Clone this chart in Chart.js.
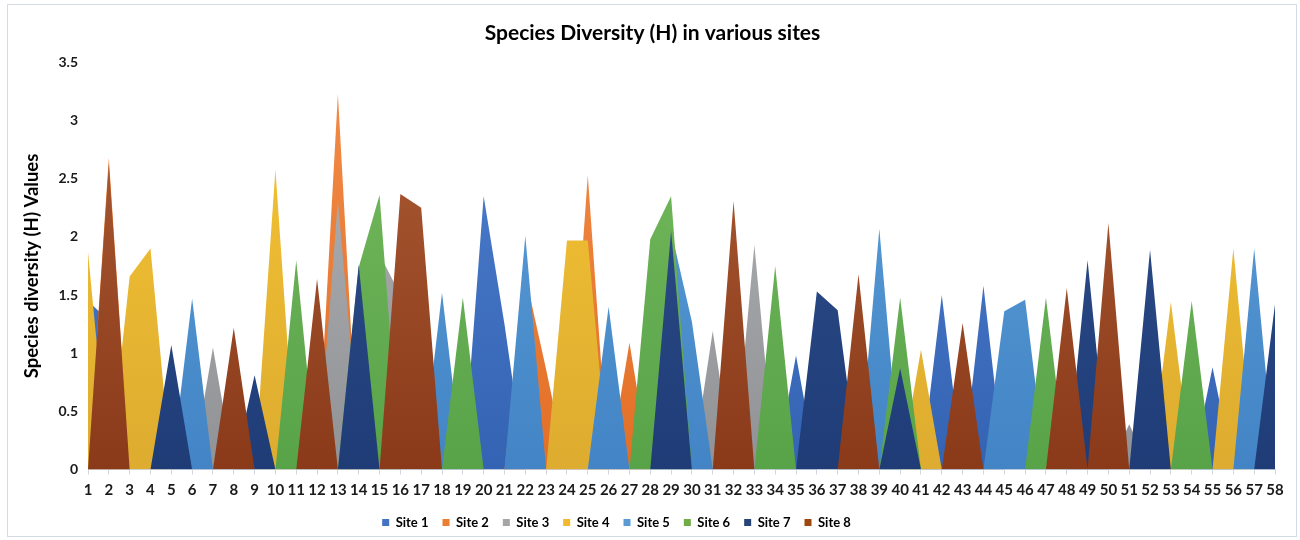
<!DOCTYPE html>
<html><head><meta charset="utf-8">
<script src="https://cdn.jsdelivr.net/npm/chart.js@4/dist/chart.umd.min.js"></script>
<style>
html,body{margin:0;padding:0;background:#fff;overflow:hidden;}
#wrap{position:relative;width:1300px;height:540px;}
#frame{position:absolute;left:7px;top:4px;width:1290px;height:533px;border:1px solid #d3dbe5;box-sizing:border-box;}
canvas{position:absolute;left:0;top:0;}
</style></head><body>
<div id="wrap"><div id="frame"></div><canvas id="c" width="1300" height="540"></canvas></div>
<script>
const categories = ["1","2","3","4","5","6","7","8","9","10","11","12","13","14","15","16","17","18","19","20",
  "21","22","23","24","25","26","27","28","29","30","31","32","33","34","35","36","37","38","39","40",
  "41","42","43","44","45","46","47","48","49","50","51","52","53","54","55","56","57","58"];
const siteNames = ["Site 1","Site 2","Site 3","Site 4","Site 5","Site 6","Site 7","Site 8"];
const yTicks = [0,0.5,1,1.5,2,2.5,3,3.5];

const site1 = [1.45,1.28,0,0,0,0,0,0,0,0, 0,0,0,0,0,0,0,0,0,2.35, 1.25,0,0,0,0,0,0,0,0,0, 0,0,0,0,0.98,0,0,0,0,0, 0,1.50,0,1.58,0,0,0,0,0,0, 0,0,0,0,0.88,0,0,0];
const site2 = [0,2.68,0,0,0,0,0,0,0,0, 0,0,3.23,0,0,0,0,0,0,0, 0,1.67,0.86,0,2.53,0,1.09,0,0,0, 0,0,0,0,0,0,0,0,0,0, 0,0,0,0,0,0,0,0,0,0, 0,0,0,0,0,0,0,0];
const site3 = [0,0,0,0,0,0,1.05,0,0,0, 0,0,2.31,0.31,1.85,1.50,0,0,0,0, 0,0,0,0,0,0,0,0,0,0, 1.19,0,1.93,0,0,0,0,0,0,0, 0,0,0,0,0,0,0,0,0,0, 0.39,0,0,0,0,0,0,0];
const site4 = [1.87,0,1.66,1.90,0,0,0,0,0,2.58, 0,0,0,0,0,0,0,0,0,0, 0,0,0,1.97,1.97,0,0,0,0,0, 0,0,0,0,0,0,0,0,0,0, 1.03,0,0,0,0,0,0,0,0,0, 0,0,1.44,0,0,1.90,0,0];
const site5 = [0,0,0,0,0,1.47,0,0,0,0, 0,0,0,0,0,0,0,1.52,0,0, 0,2.01,0,0,0,1.40,0,0,2.05,1.27, 0,0,0,0,0,0,0,0,2.07,0, 0,0,0,0,1.36,1.46,0,0,0,0, 0,0,0,0,0,0,1.90,0];
const site6 = [0,0,0,0,0,0,0,0,0,0, 1.80,0,0,1.74,2.36,0,0,0,1.48,0, 0,0,0,0,0,0,0,1.98,2.35,0, 0,0,0,1.75,0,0,0,0,0,1.48, 0,0,0,0,0,0,1.48,0,0,0, 0,0,0,1.45,0,0,0,0];
const site7 = [0,0,0,0,1.07,0,0,0,0.81,0, 0,0,0,1.76,0,0,0,0,0,0, 0,0,0,0,0,0,0,0,2.05,0, 0,0,0,0,0,1.53,1.37,0,0,0.87, 0,0,0,0,0,0,0,0,1.80,0, 0,1.89,0,0,0,0,0,1.42];
const site8 = [0,2.63,0,0,0,0,0,1.22,0,0, 0,1.64,0,0,0,2.37,2.25,0,0,0, 0,0,0,0,0,0,0,0,0,0, 0,2.31,0,0,0,0,0,1.68,0,0, 0,0,1.26,0,0,0,0,1.56,0,2.12, 0,0,0,0,0,0,0,0];

const seriesList = [site1,site2,site3,site4,site5,site6,site7,site8];
const flatColors = ["#4472C4","#ED7D31","#A5A5A5","#F2B92D","#5B9BD5","#70AD47","#264478","#9E480E"];
const topColors  = ["#4f80cf","#f28c48","#b3b5b8","#f7c533","#5fa2da","#78bb60","#30528e","#ad5d35"];
const botColors  = ["#3463b3","#e36f27","#909296","#ddac30","#4284c5","#58a348","#1f3c77","#8a3a19"];

function gradFor(i){
  return function(c){
    const ch = c.chart, a = ch.chartArea;
    if (!a) return flatColors[i];
    const g = ch.ctx.createLinearGradient(0, a.top, 0, a.bottom);
    g.addColorStop(0, topColors[i]);
    g.addColorStop(1, botColors[i]);
    return g;
  };
}

const datasets = siteNames.map((name, i) => ({
  label: name,
  data: seriesList[i],
  order: siteNames.length - 1 - i,
  fill: 'origin',
  backgroundColor: gradFor(i),
  borderColor: 'rgba(0,0,0,0)',
  borderWidth: 0,
  pointRadius: 0,
  pointHoverRadius: 0,
  tension: 0
}));

const FONT = 'Lato, "Open Sans", sans-serif';

const shiftBoxes = {
  id: 'shiftBoxes',
  afterLayout(chart) {
    const lg = chart.legend;
    if (lg) { lg.left -= 21; lg.right -= 21; }
    const tb = chart.titleBlock;
    if (tb) { tb.left += 15; tb.right += 15; }
  }
};

new Chart(document.getElementById('c'), {
  type: 'line',
  data: { labels: categories, datasets: datasets },
  plugins: [shiftBoxes],
  options: {
    responsive: false,
    animation: false,
    devicePixelRatio: 1,
    layout: { padding: { left: 0, right: 25, top: 10, bottom: 1 } },
    plugins: {
      title: {
        display: true,
        text: 'Species Diversity (H) in various sites',
        font: { family: FONT, size: 21, weight: 'bold' },
        color: '#000',
        padding: { top: 10.4, bottom: 16.9 }
      },
      legend: {
        position: 'bottom',
        labels: {
          boxWidth: 7, boxHeight: 7, padding: 14,
          font: { family: FONT, size: 13, weight: 'bold' },
          color: '#222',
          generateLabels: (chart) => chart.data.datasets.map((d, i) => ({
            text: d.label, fillStyle: flatColors[i], strokeStyle: flatColors[i],
            lineWidth: 0, hidden: false, datasetIndex: i
          }))
        }
      },
      tooltip: { enabled: false }
    },
    scales: {
      x: {
        offset: false,
        grid: { display: true, drawOnChartArea: false, drawTicks: true, tickLength: 5, color: '#cfd7e2' },
        border: { display: true, color: '#cfd7e2', width: 1 },
        ticks: { autoSkip: false, maxRotation: 0, minRotation: 0, padding: 7,
          font: { family: FONT, size: 15, weight: 'bold' }, color: '#1a1a1a' },
        afterFit: (s) => { s.height = 32.5; }
      },
      y: {
        min: 0, max: 3.5,
        grid: { display: false, drawTicks: false },
        border: { display: false },
        afterBuildTicks: (s) => { s.ticks = yTicks.map(v => ({ value: v })); },
        ticks: { padding: 10, font: { family: FONT, size: 14, weight: 'bold' }, color: '#1a1a1a',
          callback: (v) => String(v) },
        title: { display: true, text: 'Species diversity (H) Values',
          font: { family: FONT, size: 18.5, weight: 'bold' }, color: '#000', padding: { top: 21, bottom: 0 } },
        afterFit: (s) => { s.width = 88; }
      }
    }
  }
});
</script>
</body></html>
